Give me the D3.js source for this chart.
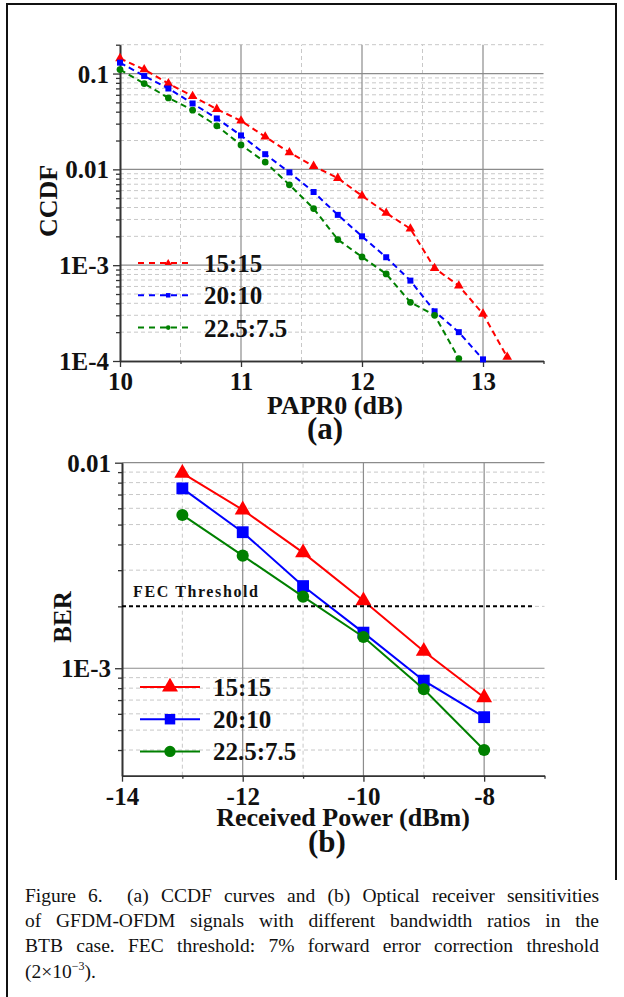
<!DOCTYPE html>
<html>
<head>
<meta charset="utf-8">
<script src="https://cdn.jsdelivr.net/npm/d3@7"></script>
<style>
  body { margin: 0; background: #fff; }
  svg { display: block; font-family: "Liberation Serif", "Times New Roman", serif; }
</style>
</head>
<body>
<script>
// data
let papr = [10, 10.2, 10.4, 10.6, 10.8, 11, 11.2, 11.4, 11.6, 11.8, 12, 12.2, 12.4, 12.6, 12.8, 13, 13.2]
let ccdf15 = [0.144, 0.110, 0.0787, 0.058, 0.0425, 0.0321, 0.0219, 0.0150, 0.0108, 0.0081, 0.0053, 0.0035, 0.0024, 0.00093, 0.00061, 0.00031, 0.00011]
let ccdf20 = [0.130, 0.0944, 0.0698, 0.0487, 0.034, 0.0226, 0.0144, 0.0093, 0.0058, 0.00335, 0.0020, 0.00121, 0.00069, 0.00033, 0.0002, 0.000104]
let ccdf225 = [0.110, 0.0787, 0.0557, 0.0415, 0.0285, 0.018, 0.0119, 0.0069, 0.0039, 0.00185, 0.00122, 0.00081, 0.00041, 0.0003, 0.000106]

let power = [-13, -12, -11, -10, -9, -8]
let ber15 = [0.0089, 0.0059, 0.00365, 0.00213, 0.00121, 0.00072]
let ber20 = [0.0075, 0.00459, 0.00251, 0.00149, 0.00087, 0.000578]
let ber225 = [0.00557, 0.00353, 0.00223, 0.00142, 0.00079, 0.00040]

let seriesNames = ['15:15', '20:10', '22.5:7.5']
let fecThreshold = 2e-3

let ticksA = [10, 11, 12, 13]
let minorXA = [10.5, 11.5, 12.5, 13.5]
let majorYA = [0.1, 0.01, 1e-3, 1e-4]
let labelsYA = ['0.1', '0.01', '1E-3', '1E-4']
let ticksB = [-14, -12, -10, -8]
let minorXB = [-13, -11, -9, -7]
let majorYB = [0.01, 1e-3]
let labelsYB = ['0.01', '1E-3']

let caption = [
  'Figure 6.  (a) CCDF curves and (b) Optical receiver sensitivities',
  'of GFDM-OFDM signals with different bandwidth ratios in the',
  'BTB case. FEC threshold: 7% forward error correction threshold'
]

let colors = ['#ff0000', '#0000ff', '#008000']
let shapes = [d3.symbolTriangle, d3.symbolSquare, d3.symbolCircle]
let serif = '"Liberation Serif", "Times New Roman", serif'

let svg = d3.select('body').append('svg')
    .attr('width', 624)
    .attr('height', 997)
    .attr('font-family', serif)

// page frame
svg.append('path')
    .attr('d', 'M7,997 V4 H616 V880')
    .attr('fill', 'none')
    .attr('stroke', '#111')
    .attr('stroke-width', 2)

// minor log positions between two decades
function minors(lo, hi) {
  let out = []
  for (let d = lo; d < hi; d *= 10) {
    for (let k = 2; k <= 9; k++) out.push(d * k)
  }
  return out
}

function drawChart(cfg) {
  let g = svg.append('g')
  let x = cfg.x, y = cfg.y
  let [x0, x1] = x.range()
  let [yb, yt] = y.range()

  // grid
  g.selectAll('.hmin').data(cfg.minorY).join('line')
      .attr('x1', x0).attr('x2', x1)
      .attr('y1', d => y(d)).attr('y2', d => y(d))
      .attr('stroke', '#c8c8c8').attr('stroke-dasharray', '4,3')
  g.selectAll('.vmin').data(cfg.minorX.filter(d => x(d) < x1 - 1)).join('line')
      .attr('x1', d => x(d)).attr('x2', d => x(d))
      .attr('y1', yb).attr('y2', yt)
      .attr('stroke', '#c8c8c8').attr('stroke-dasharray', '4,3')
  g.selectAll('.hmaj').data(cfg.majorY.filter(d => y(d) < yb - 1)).join('line')
      .attr('x1', x0).attr('x2', x1)
      .attr('y1', d => y(d)).attr('y2', d => y(d))
      .attr('stroke', '#8c8c8c').attr('stroke-width', 1.2)
  g.selectAll('.vmaj').data(cfg.ticksX.filter(d => x(d) > x0 + 1)).join('line')
      .attr('x1', d => x(d)).attr('x2', d => x(d))
      .attr('y1', yb).attr('y2', yt)
      .attr('stroke', '#8c8c8c').attr('stroke-width', 1.2)

  // axes
  let ax = g.append('g').attr('transform', `translate(0,${yb})`)
      .call(d3.axisBottom(x).tickValues(cfg.ticksX).tickSize(6).tickSizeOuter(0).tickFormat(d => String(d)))
  g.append('g').attr('transform', `translate(0,${yb})`)
      .call(d3.axisBottom(x).tickValues(cfg.minorX).tickSize(3).tickSizeOuter(0).tickFormat(''))
  let ay = g.append('g').attr('transform', `translate(${x0},0)`)
      .call(d3.axisLeft(y).tickValues(cfg.majorY).tickSize(7).tickSizeOuter(0).tickPadding(4)
        .tickFormat((d, i) => cfg.labelsY[i]))
  g.append('g').attr('transform', `translate(${x0},0)`)
      .call(d3.axisLeft(y).tickValues(cfg.minorY).tickSize(4).tickSizeOuter(0).tickFormat(''))
  g.selectAll('.domain').attr('stroke', '#333').attr('stroke-width', 1.6)
  g.selectAll('.tick line').attr('stroke', '#333').attr('stroke-width', 1.3)
  g.selectAll('.tick text')
      .attr('font-family', serif)
      .attr('font-size', 25).attr('font-weight', 'bold').attr('fill', '#111')
  ay.selectAll('.tick text').attr('dy', '0.34em')
  ax.selectAll('.tick text').attr('y', cfg.tickBase).attr('dy', 0)

  // series
  cfg.series.forEach((s, i) => {
    let pts = s.map((v, j) => [cfg.xs[j], v])
    g.append('path')
        .attr('d', d3.line().x(d => x(d[0])).y(d => y(d[1]))(pts))
        .attr('fill', 'none')
        .attr('stroke', colors[i])
        .attr('stroke-width', 2)
        .attr('stroke-dasharray', cfg.dash)
    g.selectAll(null).data(pts).join('path')
        .attr('transform', d => `translate(${x(d[0])},${y(d[1])})`)
        .attr('d', d3.symbol().type(shapes[i]).size(cfg.sizes[i]))
        .attr('fill', colors[i])
  })

  // legend
  seriesNames.forEach((name, i) => {
    let ly = cfg.legend.y + i * cfg.legend.dy
    g.append('line')
        .attr('x1', cfg.legend.x).attr('x2', cfg.legend.x + cfg.legend.w)
        .attr('y1', ly).attr('y2', ly)
        .attr('stroke', colors[i]).attr('stroke-width', 2)
        .attr('stroke-dasharray', cfg.legend.dash)
    g.append('path')
        .attr('transform', `translate(${cfg.legend.x + cfg.legend.w * cfg.legend.mk},${ly})`)
        .attr('d', d3.symbol().type(shapes[i]).size(cfg.legend.size[i]))
        .attr('fill', colors[i])
    g.append('text')
        .attr('x', cfg.legend.x + cfg.legend.w + 13)
        .attr('y', ly + 9)
        .attr('font-size', 25).attr('font-weight', 'bold').attr('fill', '#111')
        .text(name)
  })
  return g
}

// (a) CCDF
let xA = d3.scaleLinear([10, 13.5], [120, 543.5])
let yA = d3.scaleLog([1e-4, 0.2], [361, 44.7])
drawChart({
  x: xA, y: yA, xs: papr,
  series: [ccdf15, ccdf20, ccdf225],
  ticksX: ticksA, minorX: minorXA, tickBase: 29,
  majorY: majorYA, labelsY: labelsYA, minorY: minors(1e-4, 0.1).concat([0.2]),
  dash: '6,4', sizes: [40, 36, 36],
  legend: { x: 138, y: 263, dy: 32.3, w: 53, mk: 0.57, dash: '6,5', size: [22, 20, 18] }
})

svg.append('text')
    .attr('transform', 'translate(57,201) rotate(-90)')
    .attr('text-anchor', 'middle')
    .attr('font-size', 26).attr('font-weight', 'bold').attr('fill', '#111')
    .text('CCDF')
svg.append('text')
    .attr('x', 335).attr('y', 414)
    .attr('text-anchor', 'middle')
    .attr('font-size', 26).attr('font-weight', 'bold').attr('fill', '#111')
    .text('PAPR0 (dB)')
svg.append('text')
    .attr('x', 325).attr('y', 439)
    .attr('text-anchor', 'middle')
    .attr('font-size', 31).attr('font-weight', 'bold').attr('fill', '#111')
    .text('(a)')

// (b) BER
let xB = d3.scaleLinear([-14, -7], [122, 544.5])
let yB = d3.scaleLog([3e-4, 0.01], [775.7, 462.7])
let gB = drawChart({
  x: xB, y: yB, xs: power,
  series: [ber15, ber20, ber225],
  ticksX: ticksB, minorX: minorXB, tickBase: 29,
  majorY: majorYB, labelsY: labelsYB, minorY: minors(1e-4, 1e-2).filter(d => d > 3.5e-4),
  dash: null, sizes: [110, 140, 115],
  legend: { x: 140, y: 687, dy: 32.2, w: 60, mk: 0.5, dash: null, size: [110, 110, 100] }
})

gB.append('line')
    .attr('x1', xB(-14)).attr('x2', 533)
    .attr('y1', yB(fecThreshold)).attr('y2', yB(fecThreshold))
    .attr('stroke', '#000').attr('stroke-width', 2)
    .attr('stroke-dasharray', '4,3')
gB.append('text')
    .attr('x', 133).attr('y', 597)
    .attr('font-size', 16).attr('font-weight', 'bold').attr('fill', '#111')
    .attr('textLength', 125).attr('lengthAdjust', 'spacing')
    .text('FEC Threshold')

svg.append('text')
    .attr('transform', 'translate(71,617) rotate(-90)')
    .attr('text-anchor', 'middle')
    .attr('font-size', 25).attr('font-weight', 'bold').attr('fill', '#111')
    .text('BER')
svg.append('text')
    .attr('x', 343).attr('y', 826)
    .attr('text-anchor', 'middle')
    .attr('font-size', 26).attr('font-weight', 'bold').attr('fill', '#111')
    .text('Received Power (dBm)')
svg.append('text')
    .attr('x', 327).attr('y', 852)
    .attr('text-anchor', 'middle')
    .attr('font-size', 31).attr('font-weight', 'bold').attr('fill', '#111')
    .text('(b)')

// caption, justified lines
let capX = 25, capW = 574
caption.forEach((line, i) => {
  let t = svg.append('text')
      .attr('x', capX).attr('y', 902 + i * 25.2)
      .attr('font-size', 19.5).attr('fill', '#111')
      .style('white-space', 'pre')
      .text(line)
  let len = t.node().getComputedTextLength()
  let gaps = (line.match(/ /g) || []).length
  if (gaps) t.attr('word-spacing', (capW - len) / gaps)
})
let last = svg.append('text')
    .attr('x', capX).attr('y', 902 + 3 * 25.2)
    .attr('font-size', 19.5).attr('fill', '#111')
last.append('tspan').text('(2×10')
last.append('tspan').attr('dy', -8).attr('font-size', 12).text('−3')
last.append('tspan').attr('dy', 8).text(').')
</script>
</body>
</html>
